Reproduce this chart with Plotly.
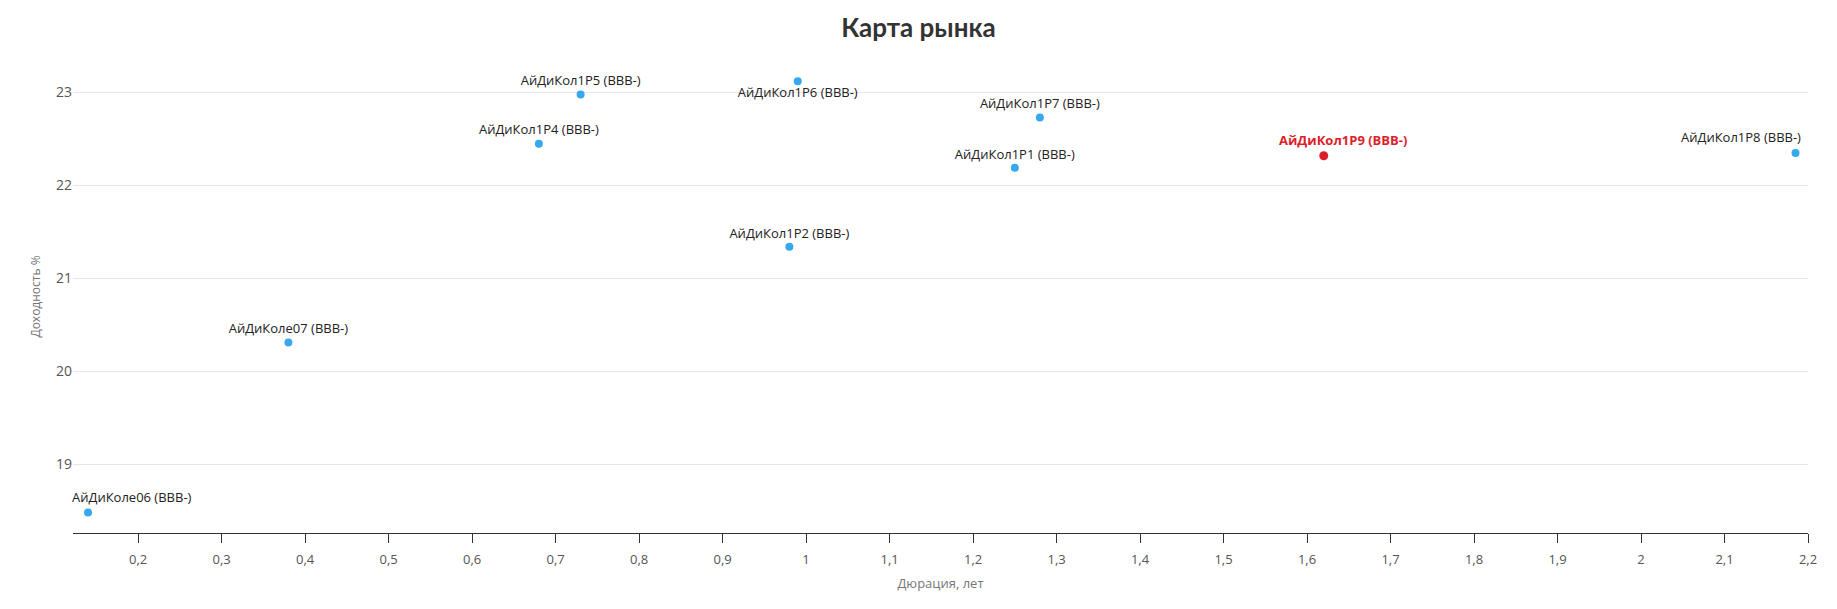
import plotly.graph_objects as go

# рыночные выпуски
names = ["АйДиКоле06 (BBB-)", "АйДиКоле07 (BBB-)", "АйДиКол1P4 (BBB-)",
         "АйДиКол1P5 (BBB-)", "АйДиКол1P6 (BBB-)", "АйДиКол1P2 (BBB-)",
         "АйДиКол1P1 (BBB-)", "АйДиКол1P7 (BBB-)", "АйДиКол1P8 (BBB-)"]
duration = [0.14, 0.38, 0.68, 0.73, 0.99, 0.98, 1.25, 1.28, 2.185]
yld = [18.48, 20.31, 22.45, 22.98, 23.12, 21.34, 22.19, 22.73, 22.35]
text_pos = ["top center"] * 4 + ["bottom center"] + ["top center"] * 4

# новый выпуск
new_name = ["АйДиКол1P9 (BBB-)"]
new_duration = [1.62]
new_yld = [22.32]

blue = "#35a8ee"
red = "#dc1e2a"
lbl_font = dict(family="Open Sans", size=13, color="#222222")

# крайние подписи прижаты внутрь области графика, их рисуем аннотациями
edge = {0: dict(xanchor="left", xshift=-18), 8: dict(xanchor="right", xshift=8)}
labels = ["" if i in edge else n for i, n in enumerate(names)]

fig = go.Figure()
fig.add_trace(go.Scatter(
    x=duration, y=yld, mode="markers+text",
    text=labels, textposition=text_pos,
    marker=dict(color=blue, size=8),
    textfont=lbl_font,
    cliponaxis=False,
))
for i, opts in edge.items():
    fig.add_annotation(
        x=duration[i], y=yld[i], text=names[i], showarrow=False,
        yanchor="bottom", yshift=5, font=lbl_font, **opts,
    )
fig.add_trace(go.Scatter(
    x=new_duration, y=new_yld, mode="markers",
    marker=dict(color=red, size=9),
    cliponaxis=False,
))
fig.add_annotation(
    x=new_duration[0], y=new_yld[0], text="<b>" + new_name[0] + "</b>",
    showarrow=False, xanchor="center", yanchor="bottom", xshift=19, yshift=5,
    font=dict(family="Open Sans", size=13, color=red),
)

# страница даёт отступ 8px, поэтому размеры чуть меньше окна
fig.update_layout(
    width=1821, height=593,
    paper_bgcolor="white", plot_bgcolor="white",
    showlegend=False,
    separators=", ",
    margin=dict(l=65, r=17, t=52, b=68),
    title=dict(text="<b>Карта рынка</b>", x=0.5, xanchor="center",
               y=0.966, yanchor="middle",
               font=dict(family="Lato", size=26, color="#333333")),
    font=dict(family="Open Sans", color="#555555"),
)
fig.update_xaxes(
    range=[0.122, 2.2], dtick=0.1, tick0=0,
    showgrid=False, zeroline=False,
    showline=True, linecolor="#333333", linewidth=1,
    ticks="outside", ticklen=9, tickcolor="#333333",
    ticklabelstandoff=5,
    tickfont=dict(size=13, color="#555555"),
    title=dict(text="Дюрация, лет", font=dict(size=13, color="#777777"), standoff=12),
)
fig.update_yaxes(
    range=[18.26, 23.35], dtick=1,
    showgrid=True, gridcolor="#e6e6e6", zeroline=False,
    showline=False, ticks="",
    tickfont=dict(size=14, color="#555555"),
    title=dict(text="Доходность %", font=dict(size=12, color="#777777"), standoff=12),
)

fig.write_html("out.html")
